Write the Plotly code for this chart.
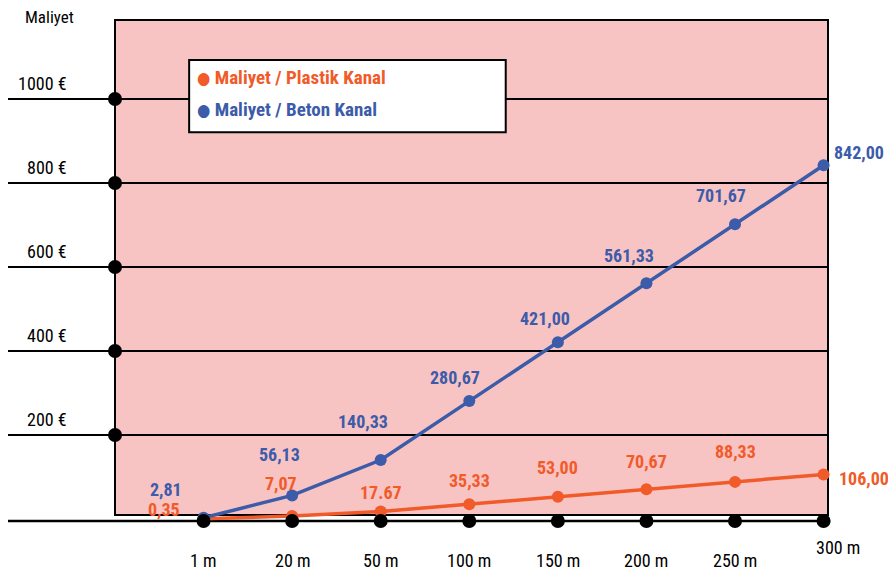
import plotly.graph_objects as go

categories = ["1 m", "20 m", "50 m", "100 m", "150 m", "200 m", "250 m", "300 m"]
plastik = [0.35, 7.07, 17.67, 35.33, 53.00, 70.67, 88.33, 106.00]
beton = [2.81, 56.13, 140.33, 280.67, 421.00, 561.33, 701.67, 842.00]
plastik_labels = ["0,35", "7,07", "17.67", "35,33", "53,00", "70,67", "88,33", "106,00"]
beton_labels = ["2,81", "56,13", "140,33", "280,67", "421,00", "561,33", "701,67", "842,00"]
y_ticks = [200, 400, 600, 800, 1000]
y_tick_text = ["200 €", "400 €", "600 €", "800 €", "1000 €"]

ORANGE = "#F15A29"
BLUE = "#3C5BA9"
PINK = "#F8C3C3"
FONT = "Roboto Condensed, Liberation Sans Narrow, DejaVu Sans Condensed, sans-serif"

x = list(range(len(categories)))
x_range = [-1, len(categories) - 0.95]
y_range = [-4.8, 1188]

# label offsets in px (dx, dy, anchor) relative to each point
beton_off = [(-38, 28, "center"), (-13, 41, "center"), (-18, 39, "center"), (-14, 24, "center"),
             (-13, 24, "center"), (-17, 28, "center"), (-14, 29, "center"), (8, 13, "left")]
plastik_off = [(-40, 9, "center"), (-11, 33, "center"), (0, 19, "center"), (0, 24, "center"),
               (0, 29, "center"), (0, 28, "center"), (0, 30, "center"), (13, -4, "left")]

fig = go.Figure()

fig.add_trace(go.Scatter(
    x=x, y=plastik, mode="lines+markers", name="Maliyet / Plastik Kanal",
    line=dict(color=ORANGE, width=3.5), marker=dict(color=ORANGE, size=12),
    cliponaxis=False, showlegend=False,
))
fig.add_trace(go.Scatter(
    x=x, y=beton, mode="lines+markers", name="Maliyet / Beton Kanal",
    line=dict(color=BLUE, width=3.5), marker=dict(color=BLUE, size=12),
    cliponaxis=False, showlegend=False,
))
# black dots on the baseline and the left border
fig.add_trace(go.Scatter(
    x=x, y=[y_range[0]] * len(x), mode="markers",
    marker=dict(color="black", size=14), cliponaxis=False, showlegend=False, hoverinfo="skip",
))
fig.add_trace(go.Scatter(
    x=[x_range[0]] * len(y_ticks), y=y_ticks, mode="markers",
    marker=dict(color="black", size=14), cliponaxis=False, showlegend=False, hoverinfo="skip",
))

shapes = [
    dict(type="rect", xref="paper", yref="paper", x0=0, x1=1, y0=0.012, y1=1,
         fillcolor=PINK, line=dict(color="black", width=2), layer="below"),
]
for v in y_ticks:
    shapes.append(dict(type="line", xref="paper", yref="y", x0=-0.154, x1=1, y0=v, y1=v,
                       line=dict(color="black", width=2), layer="below"))
shapes.append(dict(type="line", xref="paper", yref="paper", x0=-0.154, x1=1.003, y0=0, y1=0,
                   line=dict(color="black", width=2.5), layer="below"))
# legend box
shapes.append(dict(type="rect", xref="paper", yref="paper", x0=0.104, x1=0.548, y0=0.776, y1=0.920,
                   fillcolor="white", line=dict(color="black", width=2), layer="below"))

annotations = []
for i, (v, t) in enumerate(zip(beton, beton_labels)):
    dx, dy, anc = beton_off[i]
    annotations.append(dict(x=i, y=v, xref="x", yref="y", text=t, showarrow=False,
                            xanchor=anc, yanchor="middle", xshift=dx, yshift=dy,
                            font=dict(family=FONT, size=18, color=BLUE, weight="bold")))
for i, (v, t) in enumerate(zip(plastik, plastik_labels)):
    dx, dy, anc = plastik_off[i]
    annotations.append(dict(x=i, y=v, xref="x", yref="y", text=t, showarrow=False,
                            xanchor=anc, yanchor="middle", xshift=dx, yshift=dy,
                            font=dict(family=FONT, size=18, color=ORANGE, weight="bold")))
for i, c in enumerate(categories):
    last = i == len(categories) - 1
    annotations.append(dict(x=i, y=0, xref="x", yref="paper", text=c, showarrow=False,
                            xanchor="center", yanchor="middle",
                            xshift=14 if last else 0, yshift=-26 if last else -39,
                            font=dict(family=FONT, size=18, color="black")))
for v, t in zip(y_ticks, y_tick_text):
    annotations.append(dict(x=-0.0645, y=v, xref="paper", yref="y", text=t, showarrow=False,
                            xanchor="right", yanchor="bottom", yshift=3,
                            font=dict(family=FONT, size=18, color="black")))
annotations.append(dict(x=-0.129, y=1.0, xref="paper", yref="paper", text="Maliyet", showarrow=False,
                        xanchor="left", yanchor="middle", yshift=3,
                        font=dict(family=FONT, size=17, color="black")))
# legend entries
annotations.append(dict(x=0.112, y=0.885, xref="paper", yref="paper", showarrow=False,
                        text="<span style='font-size:17px'>●</span> Maliyet / Plastik Kanal",
                        xanchor="left", yanchor="middle",
                        font=dict(family=FONT, size=19, color=ORANGE, weight="bold")))
annotations.append(dict(x=0.112, y=0.822, xref="paper", yref="paper", showarrow=False,
                        text="<span style='font-size:17px'>●</span> Maliyet / Beton Kanal",
                        xanchor="left", yanchor="middle",
                        font=dict(family=FONT, size=19, color=BLUE, weight="bold")))

# the page adds an 8px body margin, so the figure is kept smaller than the window
fig.update_layout(
    width=888, height=567,
    margin=dict(l=107, r=68, t=12, b=54),
    paper_bgcolor="white", plot_bgcolor="rgba(0,0,0,0)",
    xaxis=dict(range=x_range, showgrid=False, zeroline=False, showticklabels=False, showline=False),
    yaxis=dict(range=y_range, showgrid=False, zeroline=False, showticklabels=False, showline=False),
    shapes=shapes, annotations=annotations,
    font=dict(family=FONT),
    showlegend=False,
)

fig.write_html("out.html")
